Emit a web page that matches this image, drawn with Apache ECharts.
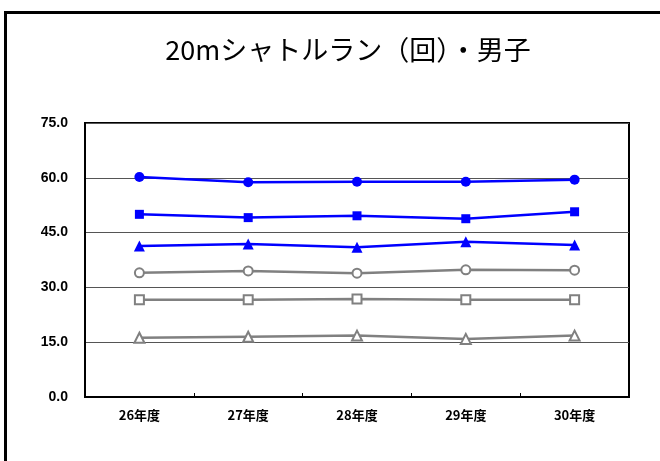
<!DOCTYPE html>
<html><head><meta charset="utf-8">
<script src="https://cdn.jsdelivr.net/npm/echarts@6/dist/echarts.min.js"></script>
<style>html,body{margin:0;padding:0;background:#fff}#c{width:660px;height:461px}</style>
</head><body><div id="c"></div>
<script>
const titleText = "20mシャトルラン（回）・男子";
const categories = ["26年度","27年度","28年度","29年度","30年度"];
const yTicks = [0, 15, 30, 45, 60, 75];
const s1 = [60.2, 58.8, 58.9, 58.9, 59.5];
const s2 = [50.0, 49.1, 49.6, 48.8, 50.7];
const s3 = [41.3, 41.9, 41.0, 42.5, 41.6];
const s4 = [34.0, 34.5, 33.9, 34.8, 34.7];
const s5 = [26.6, 26.6, 26.8, 26.6, 26.6];
const s6 = [16.2, 16.5, 16.8, 15.9, 16.8];

const blue = '#0000ff', gray = '#808080';
function mk(data, color, symbol, size, hollow) {
  return {
    type: 'line', data: data, symbol: symbol, symbolSize: size,
    lineStyle: {color: color, width: 2.5},
    itemStyle: hollow ? {color: '#fff', borderColor: color, borderWidth: 2} : {color: color, borderWidth: 0},
    emphasis: {disabled: true}, animation: false, z: 5
  };
}
const chart = echarts.init(document.getElementById('c'));
chart.setOption({
  animation: false,
  title: {text: titleText, left: 343, top: 31, textAlign: 'center',
    textStyle: {fontFamily: '"Noto Sans CJK JP"', fontSize: 27, fontWeight: 'normal', color: '#000'}},
  graphic: [{type: 'rect', left: 3, top: 10, shape: {width: 720, height: 520},
    style: {fill: 'none', stroke: '#000', lineWidth: 3}, silent: true}],
  grid: {left: 85, right: 31, top: 123, bottom: 64, show: true, borderColor: '#000', borderWidth: 2, backgroundColor: 'transparent'},
  xAxis: {type: 'category', data: categories, boundaryGap: true,
    axisLine: {show: true, lineStyle: {color: '#000', width: 2}},
    axisTick: {show: true, inside: true, length: 4, lineStyle: {color: '#000'}},
    axisLabel: {margin: 12, fontFamily: '"Noto Sans CJK JP"', fontWeight: 'bold', fontSize: 13, color: '#000'}},
  yAxis: {type: 'value', min: 0, max: 75, interval: 15,
    axisLine: {show: true, lineStyle: {color: '#000', width: 2}},
    axisTick: {show: false},
    splitLine: {show: true, lineStyle: {color: '#555', width: 1}},
    axisLabel: {margin: 17, fontFamily: 'Liberation Sans', fontWeight: 'bold', fontSize: 14, color: '#000',
      verticalAlign: 'middle', padding: [3, 0, 0, 0],
      formatter: v => yTicks.includes(v) ? v.toFixed(1) : ''}},
  series: [
    mk(s1, blue, 'circle', 10, false),
    mk(s2, blue, 'rect', 9, false),
    mk(s3, blue, 'triangle', 11, false),
    mk(s4, gray, 'circle', 9, true),
    mk(s5, gray, 'rect', 9, true),
    mk(s6, gray, 'triangle', 10, true)
  ]
});
</script></body></html>
